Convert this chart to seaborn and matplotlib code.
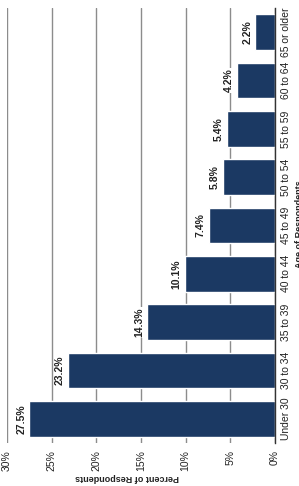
import pandas as pd
import seaborn as sns
import matplotlib.pyplot as plt

ages = ['Under 30', '30 to 34', '35 to 39', '40 to 44', '45 to 49',
        '50 to 54', '55 to 59', '60 to 64', '65 or older']
pct = [27.5, 23.2, 14.3, 10.1, 7.4, 5.8, 5.4, 4.2, 2.2]
pct_ticks = [0, 5, 10, 15, 20, 25, 30]

df = pd.DataFrame({'age': ages, 'pct': pct})

sns.set_style('white')
plt.rcParams['font.family'] = ['Liberation Sans', 'DejaVu Sans']

fig = plt.figure(figsize=(2.99, 4.86), dpi=100)
ax = fig.add_axes([7/299, 43/486, 268/299, 435/486])

# chart is drawn turned on its side: bars grow to the left
sns.barplot(data=df, y='age', x='pct', orient='h', order=ages,
            color='#1b3963', saturation=1, width=0.74, ax=ax)
ax.set_ylim(-0.5, len(ages) - 0.5)
ax.set_xlim(30, 0)
ax.set_xticks(pct_ticks)
ax.set_xticklabels([f'{t}%' for t in pct_ticks], rotation=90, fontsize=7.5, color='#222222')
ax.yaxis.tick_right()
ax.set_yticks(range(len(ages)))
ax.set_yticklabels(ages, rotation=90, va='center', fontsize=7.5, color='#222222')
ax.tick_params(axis='x', length=3, width=0.8, color='#333333', pad=2)
ax.tick_params(axis='y', length=0, pad=4)
ax.set_xlabel('')
ax.set_ylabel('')

ax.grid(axis='x', color='#8c8c8c', linewidth=1)
ax.set_axisbelow(True)
for s in ['top', 'left', 'bottom']:
    ax.spines[s].set_visible(False)
ax.spines['right'].set_color('#333333')
ax.spines['right'].set_linewidth(1)

for i, v in enumerate(pct):
    ax.text(v + 0.35, i, f'{v}%', rotation=90, ha='right', va='center',
            fontsize=7.5, fontweight='bold', color='#222222',
            bbox=dict(facecolor='white', edgecolor='none', pad=0.6))

fig.text(127/299, 1 - 477/486, 'Percent of Respondents', rotation=180,
         ha='center', va='center', fontsize=6.5, fontweight='bold', color='#222222')
# axis title sits right at the edge, partly cut off like in the original
fig.text(300/299, 1 - 224/486, 'Age of Respondents', rotation=90,
         ha='center', va='center', fontsize=6.5, fontweight='bold', color='#222222')

plt.savefig('out.png', dpi=100)
